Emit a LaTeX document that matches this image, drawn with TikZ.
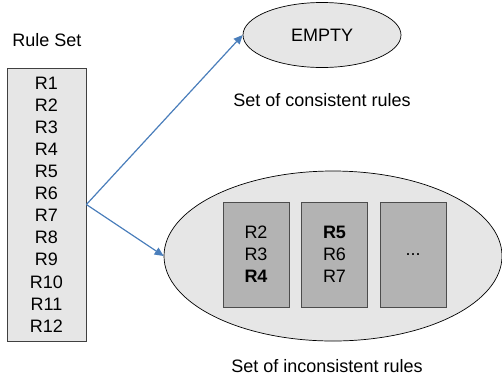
\documentclass[tikz,border=0pt]{standalone}
\usepackage{fontspec}
\setmainfont{Liberation Sans}
\usetikzlibrary{shapes.geometric,arrows.meta}
\definecolor{lightfill}{HTML}{E6E6E6}
\definecolor{darkfill}{HTML}{B3B3B3}
\definecolor{arrowblue}{HTML}{4A7EBB}
\tikzset{
  txt/.style={font=\fontsize{18}{22.1}\selectfont, align=center, inner sep=0pt},
  rulebox/.style={txt, draw=black!75, fill=lightfill, line width=0.8pt, minimum width=79pt, minimum height=273pt},
  setellipse/.style={txt, ellipse, draw=black, fill=lightfill, line width=0.7pt, inner sep=0pt},
  groupbox/.style={txt, draw=black!70, fill=darkfill, line width=0.7pt, minimum width=66pt, minimum height=105pt},
  flow/.style={draw=arrowblue, line width=1.2pt, -{Triangle[length=9pt,width=8pt]}}
}
\begin{document}
\begin{tikzpicture}[x=1pt,y=-1pt]
\useasboundingbox (0,0) rectangle (502,381);
\node[txt] (title) at (47,40) {Rule Set};
\node[rulebox] (rules) at (46.5,204.5) {R1\\R2\\R3\\R4\\R5\\R6\\R7\\R8\\R9\\R10\\R11\\R12};
\node[setellipse, minimum width=158pt, minimum height=65pt] (empty) at (322,35) {EMPTY};
\node[txt] (conslabel) at (322,100) {Set of consistent rules};
\node[setellipse, minimum width=338pt, minimum height=170pt] (incons) at (333,256) {};
\node[groupbox] (g1) at (256,254.5) {R2\\R3\\\textbf{R4}};
\node[groupbox] (g2) at (334.5,254.5) {\textbf{R5}\\R6\\R7};
\node[groupbox] (g3) at (413,254.5) {...};
\node[txt] (inclabel) at (327,366) {Set of inconsistent rules};
\draw[flow] (rules.east) -- (empty.west);
\draw[flow] (rules.east) -- (incons.west);
\end{tikzpicture}
\end{document}
